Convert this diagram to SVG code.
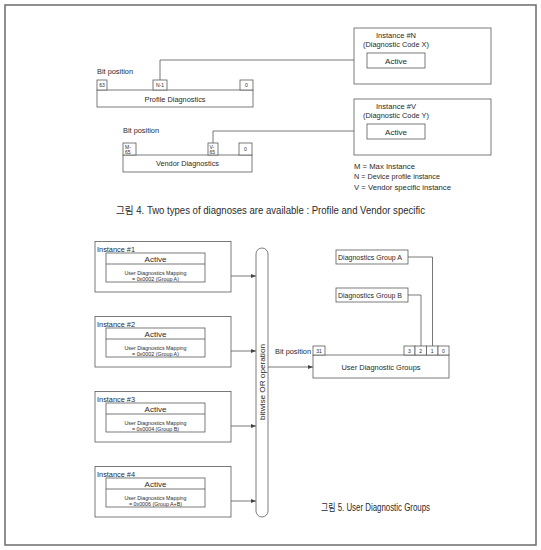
<svg xmlns="http://www.w3.org/2000/svg" width="541" height="550" viewBox="0 0 541 550">
<style>
text{font-family:"Liberation Sans","Noto Sans CJK KR",sans-serif;fill:#2a2a2a}
.bx{fill:#fff;stroke:#5a5a5a;stroke-width:0.8}
.ln{fill:none;stroke:#555;stroke-width:0.8}
.t8{font-size:8px}
.t6{font-size:5.6px}
.t5{font-size:5px}
.c{text-anchor:middle}
</style>
<defs>
<marker id="ah" markerWidth="5" markerHeight="4" refX="5" refY="2" orient="auto" markerUnits="userSpaceOnUse">
<path d="M0,0 L5,2 L0,4 Z" fill="#444"/>
</marker>
</defs>
<rect x="5" y="5" width="531" height="540" fill="#fff" stroke="#6b6b6b" stroke-width="1.5"/>

<g id="connectors">
<path class="ln" d="M160,80 V60 H367"/>
<path class="ln" d="M213,143 V131 H367"/>
<path class="ln" d="M205,276 H256" marker-end="url(#ah)"/>
<path class="ln" d="M205,351 H256" marker-end="url(#ah)"/>
<path class="ln" d="M205,426 H256" marker-end="url(#ah)"/>
<path class="ln" d="M205,501 H256" marker-end="url(#ah)"/>
<path class="ln" d="M268,367 H313" marker-end="url(#ah)"/>
<path class="ln" d="M408,257 H432.5 V346"/>
<path class="ln" d="M408,295 H421 V346"/>
</g>

<g id="instance-n">
<rect class="bx" x="354" y="28" width="137" height="56"/>
<text class="t8 c" x="396" y="38" textLength="40" lengthAdjust="spacingAndGlyphs">Instance #N</text>
<text class="t8 c" x="396" y="47" textLength="66" lengthAdjust="spacingAndGlyphs">(Diagnostic Code X)</text>
<rect class="bx" x="367" y="53" width="58" height="15"/>
<text class="t8 c" x="396" y="63.5" textLength="22" lengthAdjust="spacingAndGlyphs">Active</text>
</g>

<g id="instance-v">
<rect class="bx" x="354" y="99" width="137" height="56"/>
<text class="t8 c" x="396" y="109" textLength="40" lengthAdjust="spacingAndGlyphs">Instance #V</text>
<text class="t8 c" x="396" y="118" textLength="66" lengthAdjust="spacingAndGlyphs">(Diagnostic Code Y)</text>
<rect class="bx" x="367" y="124" width="58" height="15"/>
<text class="t8 c" x="396" y="134.5" textLength="22" lengthAdjust="spacingAndGlyphs">Active</text>
</g>

<g id="profile-diagnostics">
<text class="t8" x="97" y="74" textLength="36" lengthAdjust="spacingAndGlyphs">Bit position</text>
<rect class="bx" x="97" y="90" width="156" height="17"/>
<rect class="bx" x="97" y="80" width="10" height="10"/>
<rect class="bx" x="153" y="80" width="14" height="10"/>
<rect class="bx" x="240" y="80" width="13" height="10"/>
<text class="t5 c" x="102" y="87">63</text>
<text class="t5 c" x="160" y="87">N-1</text>
<text class="t5 c" x="246.5" y="87">0</text>
<text class="t8 c" x="175" y="101.5" textLength="61" lengthAdjust="spacingAndGlyphs">Profile Diagnostics</text>
</g>

<g id="vendor-diagnostics">
<text class="t8" x="123" y="133" textLength="36" lengthAdjust="spacingAndGlyphs">Bit position</text>
<rect class="bx" x="123" y="155" width="129" height="17"/>
<rect class="bx" x="123" y="143" width="13" height="12"/>
<rect class="bx" x="208" y="143" width="10" height="12"/>
<rect class="bx" x="239" y="143" width="13" height="12"/>
<text class="t5" x="125" y="148.5">M-</text>
<text class="t5" x="125" y="153.5">65</text>
<text class="t5" x="209.5" y="148.5">V-</text>
<text class="t5" x="209.5" y="153.5">65</text>
<text class="t5 c" x="245.5" y="151">0</text>
<text class="t8 c" x="187.5" y="166" textLength="63" lengthAdjust="spacingAndGlyphs">Vendor Diagnostics</text>
</g>

<g id="legend">
<text class="t8" x="354" y="168.5" textLength="61" lengthAdjust="spacingAndGlyphs">M = Max Instance</text>
<text class="t8" x="354" y="179" textLength="86" lengthAdjust="spacingAndGlyphs">N = Device profile instance</text>
<text class="t8" x="354" y="189.5" textLength="97" lengthAdjust="spacingAndGlyphs">V = Vendor specific instance</text>
</g>

<text id="caption-4" x="116" y="213.5" font-size="10.5" textLength="309" lengthAdjust="spacingAndGlyphs">그림 4. Two types of diagnoses are available : Profile and Vendor specific</text>

<g id="instance-1">
<rect class="bx" x="95" y="241.5" width="136" height="50.5"/>
<text class="t8" x="97" y="252" textLength="38" lengthAdjust="spacingAndGlyphs">Instance #1</text>
<rect class="bx" x="106" y="253" width="99" height="29"/>
<line class="ln" x1="106" y1="264" x2="205" y2="264"/>
<text class="t8 c" x="155.5" y="262" textLength="22" lengthAdjust="spacingAndGlyphs">Active</text>
<text class="t6 c" x="155.5" y="274.5" textLength="62" lengthAdjust="spacingAndGlyphs">User Diagnostics Mapping</text>
<text class="t6 c" x="155.5" y="280.5" textLength="47" lengthAdjust="spacingAndGlyphs">= 0x0002 (Group A)</text>
</g>

<g id="instance-2">
<rect class="bx" x="95" y="316.5" width="136" height="50.5"/>
<text class="t8" x="97" y="327" textLength="38" lengthAdjust="spacingAndGlyphs">Instance #2</text>
<rect class="bx" x="106" y="328" width="99" height="29"/>
<line class="ln" x1="106" y1="339" x2="205" y2="339"/>
<text class="t8 c" x="155.5" y="337" textLength="22" lengthAdjust="spacingAndGlyphs">Active</text>
<text class="t6 c" x="155.5" y="349.5" textLength="62" lengthAdjust="spacingAndGlyphs">User Diagnostics Mapping</text>
<text class="t6 c" x="155.5" y="355.5" textLength="47" lengthAdjust="spacingAndGlyphs">= 0x0002 (Group A)</text>
</g>

<g id="instance-3">
<rect class="bx" x="95" y="391.5" width="136" height="50.5"/>
<text class="t8" x="97" y="402" textLength="38" lengthAdjust="spacingAndGlyphs">Instance #3</text>
<rect class="bx" x="106" y="403" width="99" height="29"/>
<line class="ln" x1="106" y1="414" x2="205" y2="414"/>
<text class="t8 c" x="155.5" y="412" textLength="22" lengthAdjust="spacingAndGlyphs">Active</text>
<text class="t6 c" x="155.5" y="424.5" textLength="62" lengthAdjust="spacingAndGlyphs">User Diagnostics Mapping</text>
<text class="t6 c" x="155.5" y="430.5" textLength="47" lengthAdjust="spacingAndGlyphs">= 0x0004 (Group B)</text>
</g>

<g id="instance-4">
<rect class="bx" x="95" y="466.5" width="136" height="50.5"/>
<text class="t8" x="97" y="477" textLength="38" lengthAdjust="spacingAndGlyphs">Instance #4</text>
<rect class="bx" x="106" y="478" width="99" height="29"/>
<line class="ln" x1="106" y1="489" x2="205" y2="489"/>
<text class="t8 c" x="155.5" y="487" textLength="22" lengthAdjust="spacingAndGlyphs">Active</text>
<text class="t6 c" x="155.5" y="499.5" textLength="62" lengthAdjust="spacingAndGlyphs">User Diagnostics Mapping</text>
<text class="t6 c" x="155.5" y="505.5" textLength="53" lengthAdjust="spacingAndGlyphs">= 0x0006 (Group A+B)</text>
</g>

<g id="bitwise-or">
<rect class="bx" x="256" y="248" width="12" height="269" rx="6" ry="6"/>
<text class="t8 c" transform="translate(265,382) rotate(-90)" x="0" y="0" textLength="76" lengthAdjust="spacingAndGlyphs">bitwise OR operation</text>
</g>

<g id="group-a">
<rect class="bx" x="336" y="250" width="72" height="14"/>
<text class="t8" x="338" y="260" textLength="64" lengthAdjust="spacingAndGlyphs">Diagnostics Group A</text>
</g>

<g id="group-b">
<rect class="bx" x="336" y="288" width="72" height="14"/>
<text class="t8" x="338" y="298" textLength="64" lengthAdjust="spacingAndGlyphs">Diagnostics Group B</text>
</g>

<g id="user-diagnostic-groups">
<text class="t8" x="275" y="353.5" textLength="36" lengthAdjust="spacingAndGlyphs">Bit position</text>
<rect class="bx" x="313" y="355" width="136" height="23"/>
<rect class="bx" x="313" y="346" width="12" height="9"/>
<rect class="bx" x="404" y="346" width="11" height="9"/>
<rect class="bx" x="415" y="346" width="11.5" height="9"/>
<rect class="bx" x="426.5" y="346" width="11.5" height="9"/>
<rect class="bx" x="438" y="346" width="11" height="9"/>
<text class="t5 c" x="319" y="353">31</text>
<text class="t5 c" x="409.5" y="353">3</text>
<text class="t5 c" x="420.7" y="353">2</text>
<text class="t5 c" x="432.2" y="353">1</text>
<text class="t5 c" x="443.5" y="353">0</text>
<text class="t8 c" x="381" y="370" textLength="79" lengthAdjust="spacingAndGlyphs">User Diagnostic Groups</text>
</g>

<text id="caption-5" x="321" y="511" font-size="10.5" textLength="109" lengthAdjust="spacingAndGlyphs">그림 5. User Diagnostic Groups</text>
</svg>
